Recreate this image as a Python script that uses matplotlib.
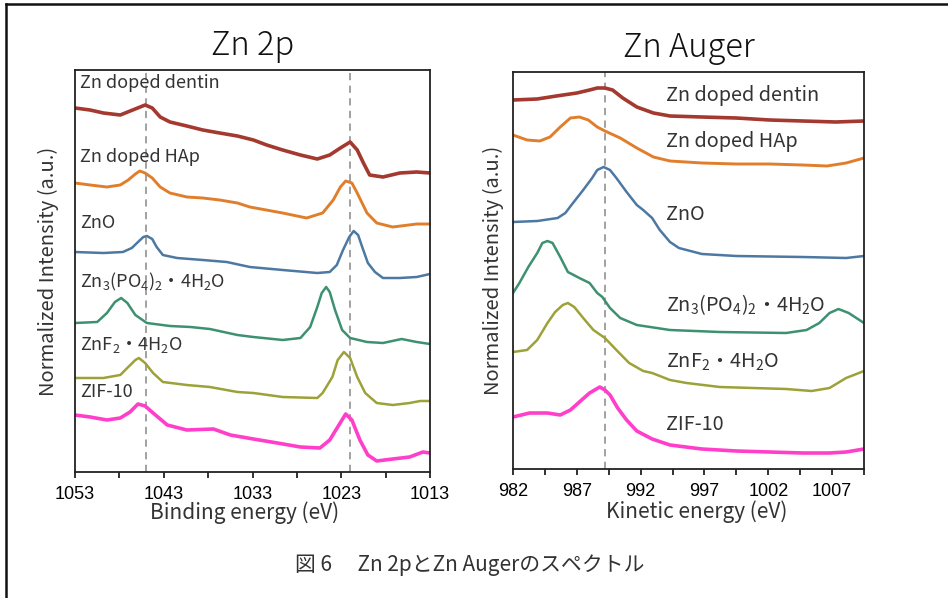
import matplotlib
matplotlib.use("Agg")
import matplotlib.pyplot as plt
from matplotlib.lines import Line2D

plt.rcParams['font.family'] = ['Noto Sans CJK JP', 'DejaVu Sans']
plt.rcParams['mathtext.fontset'] = 'custom'
plt.rcParams['mathtext.rm'] = 'Noto Sans CJK JP'
plt.rcParams['mathtext.it'] = 'Noto Sans CJK JP'
plt.rcParams['mathtext.bf'] = 'Noto Sans CJK JP'

# ---------------- Zn 2p (binding energy, eV) ----------------
be_dentin = [1053, 1051.3, 1049.8, 1047.9, 1046.5, 1045.1, 1044.3, 1043.4, 1042.3, 1040.4,
             1038.6, 1036.7, 1034.7, 1032.9, 1031.4, 1029.6, 1027.6, 1025.7, 1024.3, 1023.1,
             1022.0, 1021.2, 1020.5, 1019.8, 1018.3, 1016.4, 1014.5, 1013.0]
i_dentin = [364, 362, 359, 357, 362, 367, 364, 355, 350, 346,
            342, 339, 336, 332, 327, 322, 317, 313, 317, 324,
            330, 322, 309, 297, 295, 299, 300, 299]

be_hap = [1053, 1051.3, 1049.4, 1047.9, 1047.0, 1046.2, 1045.7, 1045.1, 1044.3, 1043.4,
          1042.3, 1040.4, 1038.6, 1036.7, 1034.7, 1033.3, 1029.6, 1026.9, 1025.1, 1023.9,
          1023.1, 1022.5, 1021.8, 1021.2, 1020.1, 1019.0, 1017.2, 1014.5, 1013.0]
i_hap = [289, 287, 285, 287, 292, 298, 301, 299, 294, 285,
         279, 275, 274, 272, 269, 265, 259, 254, 259, 272,
         285, 291, 289, 279, 259, 249, 245, 248, 248]

be_zno = [1053, 1049.8, 1047.6, 1046.6, 1045.9, 1045.3, 1044.9, 1044.3, 1043.8, 1043.1,
          1041.5, 1038.6, 1035.9, 1033.3, 1029.6, 1025.7, 1024.3, 1023.5, 1022.8, 1022.1,
          1021.6, 1021.1, 1020.6, 1020.0, 1019.2, 1018.3, 1016.4, 1014.5, 1013.0]
i_zno = [220, 219, 220, 224, 230, 235, 236, 233, 225, 217,
         214, 212, 210, 205, 202, 199, 200, 207, 222, 235,
         241, 237, 224, 209, 200, 194, 194, 195, 198]

be_zn3 = [1053, 1050.5, 1049.4, 1048.5, 1047.8, 1047.1, 1046.2, 1044.9, 1042.3, 1040.0,
          1037.8, 1034.7, 1032.9, 1029.6, 1027.6, 1026.5, 1025.7, 1025.2, 1024.7, 1024.3,
          1023.7, 1022.9, 1022.0, 1020.1, 1018.3, 1016.2, 1014.5, 1013.0]
i_zn3 = [149, 150, 159, 170, 174, 169, 157, 149, 146, 145,
         143, 137, 135, 132, 134, 145, 165, 179, 185, 180,
         162, 142, 134, 130, 129, 133, 130, 128]

be_znf2 = [1053, 1049.8, 1047.9, 1047.0, 1046.2, 1045.8, 1045.1, 1044.2, 1043.1, 1040.4,
           1037.8, 1034.7, 1032.9, 1029.6, 1025.7, 1025.1, 1024.0, 1023.4, 1022.7, 1022.0,
           1021.2, 1020.3, 1019.0, 1017.2, 1015.3, 1014.1, 1013.0]
i_znf2 = [94, 94, 97, 105, 112, 114, 109, 99, 90, 87,
          85, 80, 79, 75, 74, 79, 95, 112, 120, 114,
          95, 79, 69, 67, 69, 71, 71]

be_zif = [1053, 1051.3, 1049.4, 1047.9, 1046.8, 1045.9, 1045.1, 1044.2, 1042.6, 1040.4,
          1037.4, 1035.5, 1032.9, 1030.2, 1027.6, 1025.4, 1024.3, 1023.4, 1022.5, 1021.8,
          1020.9, 1020.0, 1019.0, 1017.2, 1015.3, 1013.8, 1013.0]
i_zif = [57, 55, 52, 54, 60, 68, 66, 59, 47, 42,
         43, 37, 33, 29, 25, 24, 32, 45, 58, 52,
         32, 17, 11, 13, 15, 20, 19]

# ---------------- Zn Auger (kinetic energy, eV) ----------------
ke_dentin = [982.0, 983.9, 985.4, 987.0, 988.0, 988.6, 989.2, 989.8, 990.6, 991.7,
             993.0, 994.3, 996.8, 999.5, 1002.1, 1004.7, 1007.3, 1009.5]
a_dentin = [369, 370, 373, 376, 379, 381, 381, 379, 371, 362,
            356, 353, 352, 351, 349, 348, 347, 348]

ke_hap = [982.0, 983.1, 984.1, 984.9, 985.7, 986.5, 987.2, 987.9, 988.6, 989.2,
          990.4, 991.7, 993.0, 994.3, 996.8, 999.5, 1002.1, 1004.7, 1006.6, 1008.1, 1009.5]
a_hap = [334, 329, 328, 332, 342, 351, 352, 349, 342, 338,
         331, 321, 312, 308, 306, 305, 305, 304, 303, 306, 311]

ke_zno = [982.0, 983.9, 985.5, 986.1, 986.7, 987.5, 988.2, 988.6, 989.1, 989.6,
          990.1, 990.9, 991.7, 992.2, 992.9, 993.5, 994.3, 995.0, 996.8, 999.5,
          1004.7, 1008.1, 1009.5]
a_zno = [247, 248, 251, 256, 266, 279, 291, 299, 302, 299,
         291, 277, 264, 259, 251, 239, 227, 221, 215, 213,
         212, 211, 213]

ke_zn3 = [982.0, 982.5, 983.2, 983.9, 984.3, 984.7, 985.1, 985.7, 986.3, 987.2,
          988.0, 988.6, 989.0, 989.6, 990.4, 991.7, 994.3, 998.2, 1003.4, 1005.0,
          1006.0, 1006.8, 1007.5, 1008.3, 1009.5]
a_zn3 = [176, 186, 202, 216, 226, 228, 226, 212, 197, 191,
         186, 176, 172, 161, 151, 144, 139, 137, 136, 139,
         146, 156, 160, 156, 146]

ke_znf2 = [982.0, 983.1, 983.9, 984.7, 985.3, 985.9, 986.3, 986.8, 987.5, 988.3,
           989.2, 990.1, 991.1, 992.2, 992.9, 994.3, 995.6, 998.2, 1003.4, 1005.4,
           1006.8, 1008.1, 1009.5]
a_znf2 = [117, 119, 129, 146, 157, 164, 166, 162, 151, 139,
          131, 119, 106, 98, 96, 89, 86, 82, 80, 78,
          81, 91, 98]

ke_zif = [982.0, 983.3, 984.7, 985.7, 986.5, 987.2, 988.0, 988.8, 989.2, 989.6,
          990.2, 990.9, 991.7, 992.9, 994.3, 996.8, 999.5, 1004.7, 1006.8, 1008.1, 1009.5]
a_zif = [52, 56, 56, 54, 59, 67, 76, 82, 79, 74,
         61, 49, 38, 30, 24, 20, 18, 16, 16, 17, 20]

labels = ['Zn doped dentin', 'Zn doped HAp', 'ZnO',
          'Zn$_3$(PO$_4$)$_2$・4H$_2$O', 'ZnF$_2$・4H$_2$O', 'ZIF-10']
colors = ['#A3392F', '#E07E2C', '#4C78A2', '#3D9170', '#9CA238', '#FF3FC9']
widths = [2.6, 2.1, 1.8, 1.8, 1.8, 2.6]

left_x_major = [1053, 1043, 1033, 1023, 1013]
left_x_minor = [1048, 1038, 1028, 1018]
right_x_major = [982, 987, 992, 997, 1002, 1007]
right_x_minor = [984.5, 989.5, 994.5, 999.5, 1004.5, 1009.5]
left_ref = [1045.0, 1022.0]
right_ref = [989.2]

left_label_y = [389, 315, 249, 190, 127, 80]
right_label_y = [373, 327, 254, 164, 107, 44]

W, H = 948, 598
fig = plt.figure(figsize=(W / 100, H / 100), dpi=100)

def px_axes(x0, y0, x1, y1):
    return fig.add_axes([x0 / W, 1 - y1 / H, (x1 - x0) / W, (y1 - y0) / H])

axL = px_axes(75, 70, 430, 472)
axR = px_axes(513, 72, 864, 469)

left_series = [(be_dentin, i_dentin), (be_hap, i_hap), (be_zno, i_zno),
               (be_zn3, i_zn3), (be_znf2, i_znf2), (be_zif, i_zif)]
right_series = [(ke_dentin, a_dentin), (ke_hap, a_hap), (ke_zno, a_zno),
                (ke_zn3, a_zn3), (ke_znf2, a_znf2), (ke_zif, a_zif)]

tick_font = dict(family='Liberation Sans', size=13)
txt_col = '#333333'

panels = [
    (axL, left_series, left_ref, (1053, 1013), (0, 402), left_x_major, left_x_minor,
     'Zn 2p', 'Binding energy (eV)', 1052.4, left_label_y, 13, (0.479, -0.074), (-0.074, 0.5)),
    (axR, right_series, right_ref, (982, 1009.5), (0, 397), right_x_major, right_x_minor,
     'Zn Auger', 'Kinetic energy (eV)', 994.0, right_label_y, 14.3, (0.524, -0.080), (-0.056, 0.5)),
]

for (ax, series, ref, xlim, ylim, xmaj, xmin_, title, xlabel, lx, ly, lfs,
     xlc, ylc) in panels:
    for r in ref:
        ax.axvline(r, color='#9a9a9a', lw=1.3, ls=(0, (4, 3)), zorder=1)
    for (xs, ys), c, lw in zip(series, colors, widths):
        ax.plot(xs, ys, color=c, lw=lw, zorder=2, solid_joinstyle='round')
    for lab, yy in zip(labels, ly):
        ax.text(lx, yy, lab, fontsize=lfs, color=txt_col, ha='left', va='center')
    ax.set_xlim(*xlim)
    ax.set_ylim(*ylim)
    ax.set_yticks([])
    ax.set_xticks(xmaj)
    ax.set_xticks(xmin_, minor=True)
    ax.set_xticklabels([str(v) for v in xmaj], fontdict=tick_font)
    ax.tick_params(axis='x', which='both', direction='out', length=4, width=1.3,
                   color='#222222', pad=6)
    for s in ax.spines.values():
        s.set_linewidth(1.3)
        s.set_color('#222222')
    ax.set_title(title, fontsize=23.5, pad=11, color='#111111', fontweight='light')
    ax.set_xlabel(xlabel, fontsize=15, color=txt_col)
    ax.xaxis.set_label_coords(*xlc)
    ax.set_ylabel('Normalized Intensity (a.u.)', fontsize=14.5, color=txt_col)
    ax.yaxis.set_label_coords(*ylc)
    ax.yaxis.label.set_va('center')

fig.text(470 / W, 1 - 565 / H, '図 6\u3000 Zn 2pとZn Augerのスペクトル',
         fontsize=15, color=txt_col, ha='center', va='center')

fig.add_artist(Line2D([6 / W, 1], [1 - 4 / H, 1 - 4 / H], color='#111111', lw=1.8))
fig.add_artist(Line2D([6 / W, 6 / W], [0, 1 - 4 / H], color='#111111', lw=1.8))

fig.savefig('out.png', dpi=100)
